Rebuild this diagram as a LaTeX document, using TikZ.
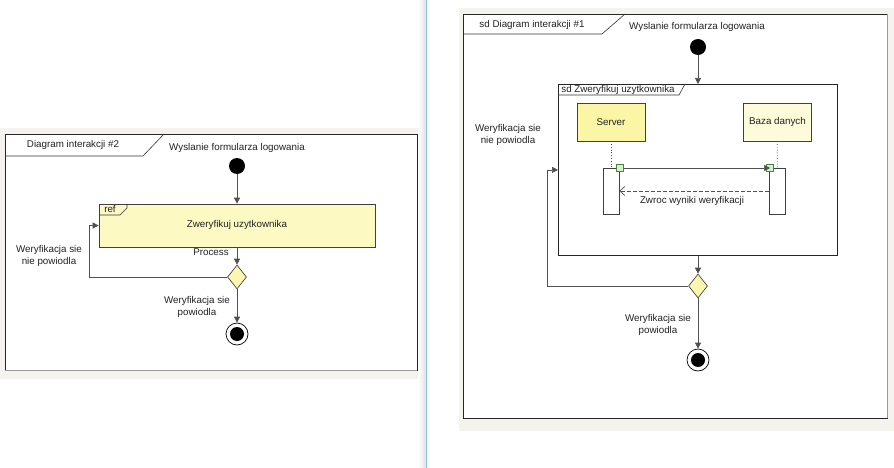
\documentclass[tikz,border=0pt]{standalone}
\usepackage{fontspec}
\setmainfont{Liberation Sans}
\usetikzlibrary{shapes.geometric,arrows.meta}
\definecolor{panelbg}{HTML}{F5F3EE}
\definecolor{refyellow}{HTML}{FCF9C3}
\definecolor{srvyellow}{HTML}{FAF6A6}
\definecolor{dbyellow}{HTML}{FDFBDA}
\definecolor{dmdyellow}{HTML}{FBF6B0}
\definecolor{linegray}{HTML}{505050}
\definecolor{txt}{HTML}{222222}
\definecolor{handle}{HTML}{3C8C3C}
\definecolor{handlefill}{HTML}{D8F0D0}
\definecolor{splitter}{HTML}{8EC8D8}
\tikzset{
  lbl/.style={font=\fontsize{9.8}{11.5}\selectfont, text=txt, inner sep=0pt, align=center},
  framebox/.style={draw=black!85, line width=0.8pt, fill=white, anchor=north west, inner sep=0pt},
  arr/.style={draw=linegray, line width=0.7pt, -{Triangle[length=6pt,width=6pt]}},
  retarr/.style={draw=linegray, line width=0.7pt, dashed, dash pattern=on 4pt off 2pt, -{Straight Barb[length=5pt,width=9pt]}},
  startnode/.style={circle, fill=black, minimum size=16pt, inner sep=0pt},
  endnode/.style={circle, draw=black, line width=0.7pt, fill=white, minimum size=22pt, inner sep=0pt,
     path picture={\fill[black] (path picture bounding box.center) circle (7pt);}},
  decision/.style={diamond, draw=black!80, line width=0.6pt, fill=dmdyellow, minimum width=19pt, minimum height=24pt, inner sep=0pt},
  lifebox/.style={draw=black!75, line width=0.6pt, minimum width=68pt, minimum height=38pt, inner sep=0pt, font=\fontsize{9.8}{11.5}\selectfont, text=txt},
  actbox/.style={draw=black!75, line width=0.6pt, fill=white, minimum width=16pt, minimum height=46pt, inner sep=0pt},
  handlebox/.style={draw=handle, fill=handlefill, line width=0.6pt, minimum size=7pt, inner sep=0pt},
  tabline/.style={draw=black!80, line width=0.6pt}
}
\begin{document}
\begin{tikzpicture}[x=1pt,y=-1pt]
\useasboundingbox (0,0) rectangle (894,468);
\fill[white] (0,0) rectangle (894,468);
% panel backgrounds
\fill[panelbg] (0,128) rectangle (420,379);
\fill[panelbg] (459,8) rectangle (894,431);
\shade[left color=white, right color=black!12] (418,0) rectangle (426,468);
\draw[splitter, line width=1pt] (426.5,0) -- (426.5,468);

% ===== Left diagram =====
\node[framebox, minimum width=412pt, minimum height=236pt] (fL) at (5,134) {};
\draw[black!40, line width=1pt] (5,370.5) -- (417,370.5);
\draw[tabline] (5,156) -- (143,156) -- (164,134);
\node[lbl] (tL) at (73,145) {Diagram interakcji \#2};
\node[lbl] (wL) at (237,148) {Wyslanie formularza logowania};
\node[startnode] (sL) at (237,166) {};
\node[draw=black!75, line width=0.7pt, fill=refyellow, minimum width=276pt, minimum height=43pt, inner sep=0pt] (ref) at (237,225.5) {};
\draw[tabline] (99,215) -- (120,215) -- (127,208) -- (127,204);
\node[lbl] (refl) at (110,209) {ref};
\node[lbl] (zL) at (237,225) {Zweryfikuj uzytkownika};
\node[lbl] (proc) at (211,252) {Process};
\node[decision] (dL) at (237,277) {};
\node[endnode] (eL) at (237,334) {};
\coordinate (lL) at (89,277);
\node[lbl] (nfL) at (49,256) {Weryfikacja sie\\nie powiodla};
\node[lbl] (okL) at (197,307) {Weryfikacja sie\\powiodla};
\draw[arr] (sL) -- (ref);
\draw[arr] (ref) -- (dL);
\draw[arr] (dL) -- (eL);
\draw[arr] (dL.west) -- (lL) |- (ref.west);

% ===== Right diagram =====
\node[framebox, minimum width=424pt, minimum height=404pt] (fR) at (463,14) {};
\draw[black!40, line width=1pt] (887.5,14) -- (887.5,418);
\draw[tabline] (463,34) -- (602,34) -- (625,14);
\node[lbl] (tR) at (532,25) {sd Diagram interakcji \#1};
\node[lbl] (wR) at (697,27) {Wyslanie formularza logowania};
\node[startnode] (sR) at (698,47) {};
\node[framebox, minimum width=279pt, minimum height=171pt] (inner) at (558,84) {};
\draw[tabline] (558,95) -- (679,95) -- (685,84);
\node[lbl] (tIn) at (618,90) {sd Zweryfikuj uzytkownika};
\node[lifebox, fill=srvyellow] (srv) at (611,122) {Server};
\node[lifebox, fill=dbyellow] (db) at (777.5,122) {Baza danych};
\node[actbox] (a1) at (611,191) {};
\node[actbox] (a2) at (777,191) {};
\draw[black!70, line width=0.8pt, dotted] (srv) -- (a1);
\draw[black!70, line width=0.8pt, dotted] (db) -- (a2);
\node[handlebox] (h1) at (620,168) {};
\node[handlebox] (h2) at (770,168) {};
\draw[arr] (h1.east) -- (h2.center);
\draw[retarr] (a2.west) -- (a1.east);
\node[lbl] (ret) at (692,201) {Zwroc wyniki weryfikacji};
\node[lbl] (nfR) at (508,135) {Weryfikacja sie\\nie powiodla};
\node[decision] (dR) at (698,286) {};
\node[endnode] (eR) at (698,360) {};
\coordinate (lR) at (547,286);
\node[lbl] (okR) at (658,325) {Weryfikacja sie\\powiodla};
\draw[arr] (sR) -- (sR |- inner.north);
\draw[arr] (inner.south -| dR) -- (dR);
\draw[arr] (dR) -- (eR);
\draw[arr] (dR.west) -- (lR) |- (inner.west);
\end{tikzpicture}
\end{document}
